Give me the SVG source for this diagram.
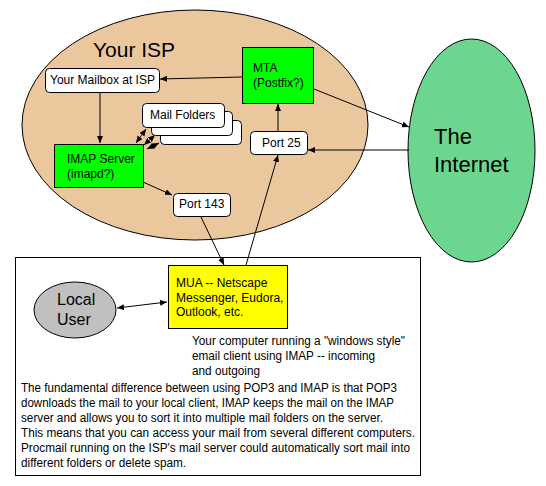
<svg xmlns="http://www.w3.org/2000/svg" width="546" height="486" viewBox="0 0 546 486">
<defs>
<marker id="ah" markerUnits="userSpaceOnUse" markerWidth="8" markerHeight="7" refX="7" refY="3" orient="auto-start-reverse">
<path d="M0,0 L7,3 L0,6 z" fill="#000"/>
</marker>
<style>
text{font-family:"Liberation Sans",Arial,sans-serif;font-size:12px;fill:#000}
.box{fill:#fff;stroke:#000;stroke-width:1}
.grn{fill:#00ff00;stroke:#000;stroke-width:1}
.c{stroke:#000;stroke-width:1;fill:none;marker-end:url(#ah)}
.d{stroke:#000;stroke-width:1;fill:none;marker-end:url(#ah);marker-start:url(#ah)}
</style>
</defs>
<rect width="546" height="486" fill="#fff"/>
<g id="isp">
<ellipse cx="195" cy="125" rx="173" ry="115" fill="#ebc79e" stroke="#000"/>
<text x="93" y="57" style="font-size:21px">Your ISP</text>
</g>
<g id="internet">
<ellipse cx="471.5" cy="150.5" rx="63.5" ry="111.5" fill="#6cd68f" stroke="#000"/>
<text x="434" y="144" style="font-size:22px">The</text>
<text x="434" y="172" style="font-size:22px">Internet</text>
</g>
<g id="computer">
<rect x="15.5" y="257.5" width="405" height="218" fill="#fff" stroke="#000"/>
<text x="192" y="345" textLength="213" lengthAdjust="spacingAndGlyphs">Your computer running a "windows style"</text>
<text x="192" y="360" textLength="183" lengthAdjust="spacingAndGlyphs">email client using IMAP -- incoming</text>
<text x="192" y="375" textLength="68" lengthAdjust="spacingAndGlyphs">and outgoing</text>
<text x="21" y="392" textLength="376" lengthAdjust="spacingAndGlyphs">The fundamental difference between using POP3 and IMAP is that POP3</text>
<text x="21" y="407" textLength="373" lengthAdjust="spacingAndGlyphs">downloads the mail to your local client, IMAP keeps the mail on the IMAP</text>
<text x="21" y="422" textLength="362" lengthAdjust="spacingAndGlyphs">server and allows you to sort it into multiple mail folders on the server.</text>
<text x="21" y="437" textLength="394" lengthAdjust="spacingAndGlyphs">This means that you can access your mail from several different computers.</text>
<text x="21" y="452" textLength="389" lengthAdjust="spacingAndGlyphs">Procmail running on the ISP's mail server could automatically sort mail into</text>
<text x="21" y="467" textLength="165" lengthAdjust="spacingAndGlyphs">different folders or delete spam.</text>
</g>
<g id="connectors">
<line class="c" x1="242" y1="77" x2="160" y2="79"/>
<line class="c" x1="100" y1="92" x2="100" y2="143"/>
<line class="d" x1="136" y1="143" x2="146" y2="129"/>
<line class="d" x1="144" y1="145" x2="155" y2="135"/>
<line class="d" x1="147" y1="149" x2="159" y2="143"/>
<line class="c" x1="143" y1="182" x2="172" y2="195"/>
<line class="c" x1="201" y1="217" x2="224" y2="265"/>
<line class="c" x1="246" y1="265" x2="278" y2="155"/>
<line class="c" x1="278" y1="131" x2="278" y2="104"/>
<line class="c" x1="314" y1="89" x2="409" y2="127"/>
<line class="c" x1="409" y1="150" x2="308" y2="150"/>
<line class="d" x1="117" y1="308" x2="167" y2="302"/>
</g>
<g id="mailbox">
<rect class="box" x="45.5" y="68.5" width="114" height="24" rx="4"/>
<text x="50" y="84">Your Mailbox at ISP</text>
</g>
<g id="mta">
<rect class="grn" x="242.5" y="47.5" width="71" height="56"/>
<text x="253" y="72">MTA</text>
<text x="253" y="87">(Postfix?)</text>
</g>
<g id="mailfolders">
<rect class="box" x="160.5" y="120.5" width="81" height="24" rx="4"/>
<rect class="box" x="151.5" y="111.5" width="81" height="24" rx="4"/>
<rect class="box" x="142.5" y="103.5" width="82" height="24" rx="4"/>
<text x="150" y="119">Mail Folders</text>
</g>
<g id="imap">
<rect class="grn" x="54.5" y="144.5" width="89" height="43"/>
<text x="67" y="163">IMAP Server</text>
<text x="67" y="178">(imapd?)</text>
</g>
<g id="port25">
<rect class="box" x="250.5" y="131.5" width="57" height="23" rx="4"/>
<text x="262" y="147">Port 25</text>
</g>
<g id="port143">
<rect class="box" x="173.5" y="193.5" width="57" height="23" rx="4"/>
<text x="179" y="208">Port 143</text>
</g>
<g id="mua">
<rect x="168.5" y="265.5" width="119" height="63" fill="#ffff00" stroke="#000"/>
<text x="176" y="287">MUA -- Netscape</text>
<text x="176" y="302">Messenger, Eudora,</text>
<text x="176" y="316">Outlook, etc.</text>
</g>
<g id="localuser">
<ellipse cx="75" cy="310" rx="41" ry="28" fill="#c0c0c0" stroke="#000"/>
<text x="57" y="305" style="font-size:16px">Local</text>
<text x="57" y="325" style="font-size:16px">User</text>
</g>
</svg>
